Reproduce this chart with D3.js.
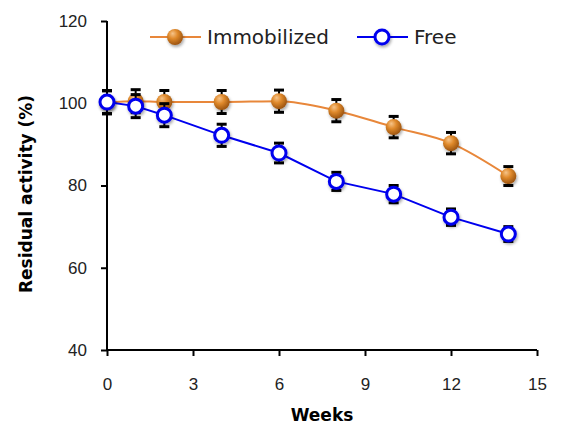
<!DOCTYPE html>
<html lang="en">
<head>
    <meta charset="UTF-8">
    <title>Residual activity</title>
    <script src="https://d3js.org/d3.v7.min.js"></script>
    <style>
        body { margin: 0; background: #fff; font-family: 'DejaVu Sans', sans-serif; }
        .tick text { font-size: 17px; fill: #222; }
    </style>
</head>
<body>
    <div id="chart"></div>
    <script>
        // data
        const weeks = [0, 1, 2, 4, 6, 8, 10, 12, 14];
        const immobilized = [100.2, 100.5, 100.3, 100.3, 100.5, 98.2, 94.2, 90.3, 82.3];
        const immobilizedErr = [2.8, 2.8, 2.8, 2.8, 2.7, 2.7, 2.6, 2.6, 2.3];
        const free = [100.3, 99.3, 97.1, 92.2, 87.9, 81.0, 77.9, 72.3, 68.2];
        const freeErr = [2.8, 2.8, 2.8, 2.7, 2.4, 2.2, 2.1, 2.0, 1.8];
        const xTicks = [0, 3, 6, 9, 12, 15];
        const yTicks = [40, 60, 80, 100, 120];

        const width = 571, height = 426;
        const margin = { top: 21, right: 34, bottom: 76, left: 107 };

        const x = d3.scaleLinear().domain([0, 15]).range([margin.left, width - margin.right]);
        const y = d3.scaleLinear().domain([40, 120]).range([height - margin.bottom, margin.top]);

        const svg = d3.select('#chart').append('svg')
            .attr('width', width)
            .attr('height', height);

        const defs = svg.append('defs');
        const grad = defs.append('radialGradient')
            .attr('id', 'ball')
            .attr('cx', '40%').attr('cy', '35%').attr('r', '65%')
            .attr('fx', '35%').attr('fy', '28%');
        grad.append('stop').attr('offset', '0%').attr('stop-color', '#f6c48a');
        grad.append('stop').attr('offset', '45%').attr('stop-color', '#e08a2c');
        grad.append('stop').attr('offset', '100%').attr('stop-color', '#9c5410');

        const shadow = defs.append('filter').attr('id', 'shadow')
            .attr('x', '-50%').attr('y', '-50%').attr('width', '200%').attr('height', '200%');
        shadow.append('feDropShadow')
            .attr('dx', 1).attr('dy', 2).attr('stdDeviation', 1.5)
            .attr('flood-color', '#000').attr('flood-opacity', 0.35);

        // axes
        svg.append('g')
            .attr('transform', `translate(0,${y(40)})`)
            .call(d3.axisBottom(x).tickValues(xTicks).tickSize(6).tickPadding(22))
            .call(g => g.selectAll('path, line').attr('stroke', '#000').attr('stroke-width', 2));

        svg.append('g')
            .attr('transform', `translate(${x(0)},0)`)
            .call(d3.axisLeft(y).tickValues(yTicks).tickSize(6).tickPadding(14))
            .call(g => g.selectAll('path, line').attr('stroke', '#000').attr('stroke-width', 2));

        svg.selectAll('.domain').attr('d', null);
        svg.append('line')
            .attr('x1', x(0)).attr('x2', x(15))
            .attr('y1', y(40)).attr('y2', y(40))
            .attr('stroke', '#000').attr('stroke-width', 2);
        svg.append('line')
            .attr('x1', x(0)).attr('x2', x(0))
            .attr('y1', y(40)).attr('y2', y(120))
            .attr('stroke', '#000').attr('stroke-width', 2);

        // axis titles
        svg.append('text')
            .attr('x', (x(0) + x(15)) / 2)
            .attr('y', 421)
            .attr('text-anchor', 'middle')
            .style('font-size', '17px')
            .style('font-weight', 'bold')
            .text('Weeks');

        svg.append('text')
            .attr('transform', 'rotate(-90)')
            .attr('x', -194)
            .attr('y', 32)
            .attr('text-anchor', 'middle')
            .style('font-size', '17px')
            .style('font-weight', 'bold')
            .text('Residual activity (%)');

        // series
        const series = [
            { name: 'Immobilized', values: immobilized, err: immobilizedErr, color: '#e8873a', curve: d3.curveMonotoneX },
            { name: 'Free', values: free, err: freeErr, color: '#0000ee', curve: d3.curveLinear }
        ];

        series.forEach(s => {
            const pts = weeks.map((w, i) => ({ w: w, v: s.values[i], e: s.err[i] }));

            svg.append('path')
                .datum(pts)
                .attr('fill', 'none')
                .attr('stroke', s.color)
                .attr('stroke-width', 2)
                .attr('d', d3.line().x(d => x(d.w)).y(d => y(d.v)).curve(s.curve));

            const eb = svg.append('g').attr('stroke', '#000').attr('stroke-width', 2);
            eb.selectAll('.v').data(pts).enter().append('line')
                .attr('x1', d => x(d.w)).attr('x2', d => x(d.w))
                .attr('y1', d => y(d.v - d.e)).attr('y2', d => y(d.v + d.e));
            eb.selectAll('.t').data(pts).enter().append('line')
                .attr('x1', d => x(d.w) - 5).attr('x2', d => x(d.w) + 5)
                .attr('y1', d => y(d.v + d.e)).attr('y2', d => y(d.v + d.e))
                .attr('stroke-width', 3);
            eb.selectAll('.b').data(pts).enter().append('line')
                .attr('x1', d => x(d.w) - 5).attr('x2', d => x(d.w) + 5)
                .attr('y1', d => y(d.v - d.e)).attr('y2', d => y(d.v - d.e))
                .attr('stroke-width', 3);

            const m = svg.append('g').selectAll('circle').data(pts).enter().append('circle')
                .attr('cx', d => x(d.w)).attr('cy', d => y(d.v))
                .attr('filter', 'url(#shadow)');
            styleMarker(m, s);
        });

        function styleMarker(sel, s) {
            if (s.name === 'Immobilized') {
                sel.attr('r', 8).attr('fill', 'url(#ball)');
            } else {
                sel.attr('r', 7).attr('fill', '#fff').attr('stroke', s.color).attr('stroke-width', 3);
            }
        }

        // legend
        const legendX = [150, 357];
        const legend = svg.selectAll('.legend')
            .data(series)
            .enter()
            .append('g')
            .attr('class', 'legend')
            .attr('transform', (d, i) => `translate(${legendX[i]},37)`);

        legend.append('line')
            .attr('x1', 0).attr('x2', 51)
            .attr('stroke', d => d.color).attr('stroke-width', 2);
        legend.each(function (d) {
            const c = d3.select(this).append('circle').attr('cx', 25).attr('cy', 0)
                .attr('filter', 'url(#shadow)');
            styleMarker(c, d);
        });
        legend.append('text')
            .attr('x', 57)
            .attr('dy', '0.35em')
            .style('font-size', '20px')
            .style('fill', '#222')
            .text(d => d.name);
    </script>
</body>
</html>
